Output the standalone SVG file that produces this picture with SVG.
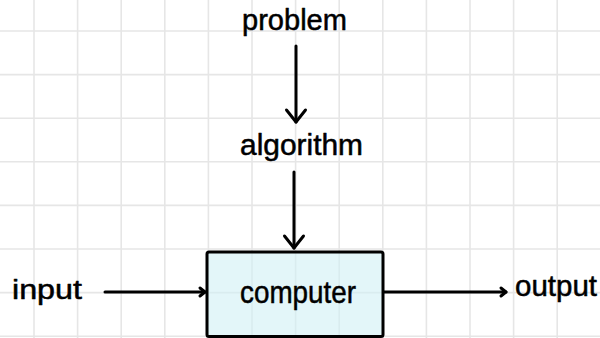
<svg xmlns="http://www.w3.org/2000/svg" width="600" height="338" viewBox="0 0 600 338">
  <defs>
    <style>
      .grid line { stroke: #e6e6e6; stroke-width: 1.6; }
      .lbl { font-family: "Liberation Sans", Arial, sans-serif; fill: #000; stroke: #000; stroke-width: 0.5; stroke-linejoin: round; }
      .conn { stroke: #000; stroke-width: 3; stroke-linecap: round; fill: none; }
      .head { stroke: #000; stroke-width: 3; stroke-linecap: round; stroke-linejoin: round; fill: none; }
    </style>
    <marker id="bigHead" markerUnits="userSpaceOnUse" markerWidth="30" markerHeight="30" refX="0" refY="0" viewBox="-15 -15 30 30" orient="auto" overflow="visible">
      <path class="head" d="M -12 -9.5 L 0 0 L -12 9.5"/>
    </marker>
    <marker id="smallHead" markerUnits="userSpaceOnUse" markerWidth="20" markerHeight="20" refX="0" refY="0" viewBox="-10 -10 20 20" orient="auto" overflow="visible">
      <path class="head" d="M -5 -4 L 0 0 L -5 4"/>
    </marker>
  </defs>
  <rect width="600" height="338" fill="#ffffff"/>
  <g class="grid">
    <line x1="34" y1="0" x2="34" y2="338"/>
    <line x1="77.6" y1="0" x2="77.6" y2="338"/>
    <line x1="121.2" y1="0" x2="121.2" y2="338"/>
    <line x1="164.8" y1="0" x2="164.8" y2="338"/>
    <line x1="208.4" y1="0" x2="208.4" y2="338"/>
    <line x1="252" y1="0" x2="252" y2="338"/>
    <line x1="295.6" y1="0" x2="295.6" y2="338"/>
    <line x1="339.2" y1="0" x2="339.2" y2="338"/>
    <line x1="382.8" y1="0" x2="382.8" y2="338"/>
    <line x1="426.4" y1="0" x2="426.4" y2="338"/>
    <line x1="470" y1="0" x2="470" y2="338"/>
    <line x1="513.6" y1="0" x2="513.6" y2="338"/>
    <line x1="557.2" y1="0" x2="557.2" y2="338"/>
    <line x1="0" y1="31" x2="600" y2="31"/>
    <line x1="0" y1="74.6" x2="600" y2="74.6"/>
    <line x1="0" y1="118.2" x2="600" y2="118.2"/>
    <line x1="0" y1="161.8" x2="600" y2="161.8"/>
    <line x1="0" y1="205.4" x2="600" y2="205.4"/>
    <line x1="0" y1="249" x2="600" y2="249"/>
    <line x1="0" y1="292.6" x2="600" y2="292.6"/>
    <line x1="0" y1="336.2" x2="600" y2="336.2"/>
  </g>

  <g id="problem">
    <text class="lbl" x="242" y="30" font-size="29" textLength="105" lengthAdjust="spacingAndGlyphs">problem</text>
  </g>
  <g id="algorithm">
    <text class="lbl" x="240" y="155" font-size="29" textLength="123" lengthAdjust="spacingAndGlyphs">algorithm</text>
  </g>
  <g id="computer">
    <rect x="207" y="252" width="176" height="84.5" rx="2" fill="#d0f0f5" fill-opacity="0.6" stroke="#000" stroke-width="3"/>
    <text class="lbl" x="240" y="303" font-size="32" textLength="116" lengthAdjust="spacingAndGlyphs">computer</text>
  </g>
  <g id="input">
    <text class="lbl" x="12" y="299" font-size="27" textLength="70" lengthAdjust="spacingAndGlyphs">input</text>
  </g>
  <g id="output">
    <text class="lbl" x="515" y="296" font-size="29" textLength="82" lengthAdjust="spacingAndGlyphs">output</text>
  </g>

  <g id="connectors">
    <line class="conn" x1="296" y1="46" x2="296" y2="122" marker-end="url(#bigHead)"/>
    <line class="conn" x1="294" y1="172" x2="294" y2="248" marker-end="url(#bigHead)"/>
    <line class="conn" x1="105" y1="292" x2="205" y2="292" marker-end="url(#smallHead)"/>
    <line class="conn" x1="384" y1="292" x2="506" y2="292" marker-end="url(#smallHead)"/>
  </g>
</svg>
